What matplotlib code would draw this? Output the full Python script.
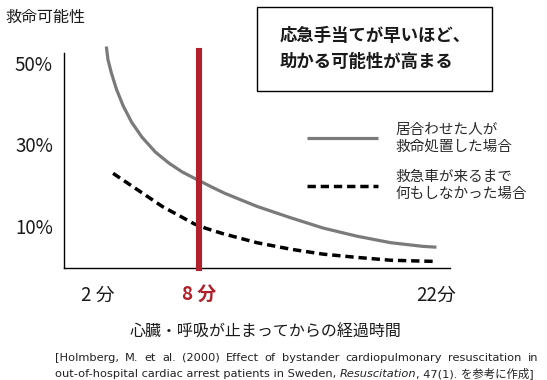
import matplotlib
matplotlib.use("Agg")
import matplotlib.pyplot as plt
from matplotlib.patches import Rectangle

plt.rcParams['font.family'] = ['Noto Sans CJK JP', 'DejaVu Sans']

# --- data ---
# survival chance (%) vs minutes since the heart / breathing stopped
bystander_min = [2.5, 2.6, 2.8, 3.1, 3.5, 4.0, 4.6, 5.4, 6.2, 7.0, 7.8, 8.7, 9.5,
                 11.4, 13.4, 15.3, 17.3, 19.3, 21.2, 22.0]
bystander_pct = [54.0, 50.7, 47.5, 43.5, 39.4, 35.4, 31.8, 28.1, 25.4, 23.2, 21.5, 19.6, 18.0,
                 14.8, 12.0, 9.5, 7.5, 5.9, 5.0, 4.8]
nothing_min = [2.9, 5.8, 7.7, 8.4, 9.4, 11.4, 13.4, 15.3, 17.3, 19.3, 22.0]
nothing_pct = [22.9, 14.8, 10.5, 9.4, 8.1, 5.9, 4.3, 3.1, 2.3, 1.6, 1.3]

ambulance_min = 8
xtick_min = [2, 8, 22]
xtick_labels = ["2 分", "8 分", "22分"]
ytick_pct = [10, 30, 50]
ytick_labels = ["10%", "30%", "50%"]

label_bystander = "居合わせた人が\n救命処置した場合"
label_nothing = "救急車が来るまで\n何もしなかった場合"
headline = "応急手当てが早いほど、\n助かる可能性が高まる"
ylabel = "救命可能性"
xlabel = "心臓・呼吸が止まってからの経過時間"
cite1 = "[Holmberg, M. et al. (2000) Effect of bystander cardiopulmonary resuscitation in"
cite2 = ["out-of-hospital cardiac arrest patients in Sweden, ", "Resuscitation", ", 47(1). を参考に作成]"]

RED = "#b1212b"
GRAY = "#7a7a7a"
INK = "#1a1a1a"

W, H = 547, 380
def fx(px):
    return px / W
def fy(py):
    return 1 - py / H

fig = plt.figure(figsize=(W / 100, H / 100), dpi=100)
ax = fig.add_axes([fx(64), fy(268), fx(450) - fx(64), fy(53) - fy(268)])

ax.plot(bystander_min, bystander_pct, color=GRAY, lw=2.3, clip_on=False,
        label=label_bystander, solid_capstyle='butt', solid_joinstyle='round')
ax.plot(nothing_min, nothing_pct, color="black", lw=2.5, linestyle=(0, (2.4, 1.4)),
        clip_on=False, label=label_nothing)
ax.axvline(ambulance_min, ymin=0, ymax=1.01, color=RED, lw=4.4, clip_on=False, zorder=5)

ax.set_xlim(0, 22.8)
ax.set_ylim(-0.3, 52.4)
for s in ['top', 'right']:
    ax.spines[s].set_visible(False)
for s in ['left', 'bottom']:
    ax.spines[s].set_linewidth(1.0)
    ax.spines[s].set_color("black")

ax.set_xticks(xtick_min)
ax.set_xticklabels(xtick_labels, fontsize=13.5, color=INK)
ax.set_yticks(ytick_pct)
ax.set_yticklabels(ytick_labels, fontsize=13.5, color=INK)
ax.tick_params(axis='x', length=0, pad=12)
ax.tick_params(axis='y', length=0, pad=8)
red_lab = ax.get_xticklabels()[1]
red_lab.set_color(RED)
red_lab.set_fontweight('bold')

leg = ax.legend(loc='upper left', bbox_to_anchor=(fx(307), fy(123)),
                bbox_transform=fig.transFigure, frameon=False, fontsize=10.5,
                handlelength=4.9, handletextpad=1.2, labelspacing=1.17,
                borderpad=0, borderaxespad=0)
for t in leg.get_texts():
    t.set_color("#2a2a2a")

# headline box
fig.patches.append(Rectangle((fx(257), fy(91)), fx(492) - fx(257), fy(7) - fy(91),
                             transform=fig.transFigure, fill=False, ec="black", lw=1.0))
fig.text(fx(375), fy(49), headline, ha='center', va='center', multialignment='left',
         fontsize=12.5, fontweight='bold', linespacing=1.55, color=INK)

fig.text(fx(5), fy(17), ylabel, ha='left', va='center', fontsize=11.5, color=INK)
fig.text(fx(266), fy(332), xlabel, ha='center', va='center', fontsize=11.5, color=INK)

# citation, first line justified
renderer = fig.canvas.get_renderer()
cfam = ['DejaVu Sans', 'Noto Sans CJK JP']
csize = 8.2
left, right = 55, 538
words = cite1.split()
arts = [fig.text(0, fy(361), w, fontsize=csize, family=cfam, color="#222222", va='baseline')
        for w in words]
widths = [a.get_window_extent(renderer).width for a in arts]
gap = (right - left - sum(widths)) / (len(words) - 1)
x = left
for a, w in zip(arts, widths):
    a.set_x(fx(x))
    x += w + gap

x = left
for i, piece in enumerate(cite2):
    a = fig.text(fx(x), fy(377), piece, fontsize=csize, family=cfam, color="#222222",
                 va='baseline', style='italic' if i == 1 else 'normal')
    x += a.get_window_extent(renderer).width

fig.savefig("out.png", dpi=100)
